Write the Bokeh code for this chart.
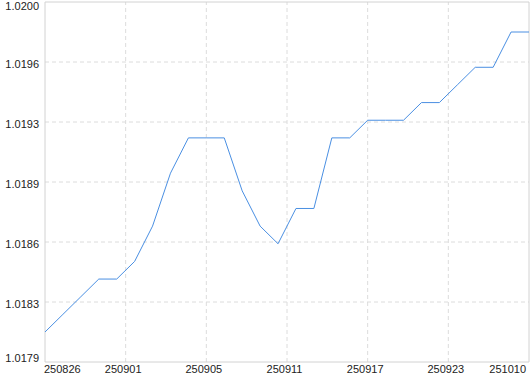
import numpy as np
from bokeh.plotting import figure
from bokeh.models import ColumnDataSource, Range1d
from bokeh.core.properties import value, field
from bokeh.embed import file_html
from bokeh.resources import INLINE

dates = ["250826", "250827", "250828", "250829", "250901", "250902", "250903",
         "250904", "250905", "250908", "250909", "250910", "250911", "250912",
         "250915", "250916", "250917", "250918", "250919", "250922", "250923",
         "250924", "250925", "250926", "250929", "250930", "251009", "251010"]
nav = [1.0181, 1.0182, 1.0183, 1.0184, 1.0184, 1.0185, 1.0187, 1.0190,
       1.0192, 1.0192, 1.0192, 1.0189, 1.0187, 1.0186, 1.0188, 1.0188,
       1.0192, 1.0192, 1.0193, 1.0193, 1.0193, 1.0194, 1.0194, 1.0195,
       1.0196, 1.0196, 1.0198, 1.0198]
x_tick_labels = ["250826", "250901", "250905", "250911", "250917", "250923", "251010"]
y_tick_labels = ["1.0179", "1.0183", "1.0186", "1.0189", "1.0193", "1.0196", "1.0200"]

# ---- layout constants (pixels) ----
W, H = 530, 374
ML, MR, MT, MB = 44.5, 1.5, 1.5, 12.5

idx = list(range(len(nav)))
xmin, xmax = 0, len(nav) - 1
span = max(nav) - min(nav)
ylo = min(nav) - 0.1 * span
yhi = max(nav) + 0.1 * span
xt = [float(v) for v in np.linspace(xmin, xmax, len(x_tick_labels))]
yt = [float(v) for v in np.linspace(ylo, yhi, len(y_tick_labels))]

xpp = (xmax - xmin) / (W - ML - MR)
ypp = (yhi - ylo) / (H - MT - MB)

FONT = "Liberation Sans"
FS = "11px"
TC = "#222222"
GRID = "#dcdcdc"
BORDER = "#d2d2d2"

p = figure(width=W, height=H, output_backend="svg", toolbar_location=None,
           x_range=Range1d(xmin - ML * xpp, xmax + MR * xpp),
           y_range=Range1d(ylo - MB * ypp, yhi + MT * ypp),
           x_axis_location=None, y_axis_location=None,
           min_border=0, background_fill_color="white",
           border_fill_color="white")
p.outline_line_color = None
p.grid.visible = False

# dashed grid lines inside the plotting area
p.segment(x0=xt[1:-1], y0=[ylo] * (len(xt) - 2), x1=xt[1:-1], y1=[yhi] * (len(xt) - 2),
          line_color=GRID, line_dash="4 3", line_width=1)
p.segment(x0=[xmin] * (len(yt) - 2), y0=yt[1:-1], x1=[xmax] * (len(yt) - 2), y1=yt[1:-1],
          line_color=GRID, line_dash="4 3", line_width=1)

# frame border
p.quad(left=[xmin], right=[xmax], bottom=[ylo], top=[yhi],
       fill_color=None, line_color=BORDER, line_width=1)

src = ColumnDataSource(dict(x=idx, y=nav, d=dates))
p.line("x", "y", source=src, line_color="#4a8fe2", line_width=1)

# x tick labels
n = len(x_tick_labels)
xsrc = ColumnDataSource(dict(
    x=xt, y=[ylo] * n, text=x_tick_labels,
    align=["left"] + ["center"] * (n - 2) + ["right"],
    xo=[-1.0] + [-2.5] * (n - 2) + [-3.0]))
p.text(x="x", y="y", text="text", source=xsrc, x_offset="xo", y_offset=6.5,
       text_align=field("align"), text_baseline="alphabetic",
       text_font=value(FONT), text_font_size=value(FS), text_color=TC)

# y tick labels
m = len(y_tick_labels)
ysrc = ColumnDataSource(dict(
    x=[xmin] * m, y=yt, text=y_tick_labels,
    yo=[-4.0] + [1.8] * (m - 2) + [4.0]))
p.text(x="x", y="y", text="text", source=ysrc, x_offset=-6, y_offset="yo",
       text_align="right", text_baseline="alphabetic",
       text_font=value(FONT), text_font_size=value(FS), text_color=TC)

open("out.html", "w").write(file_html(p, INLINE))
